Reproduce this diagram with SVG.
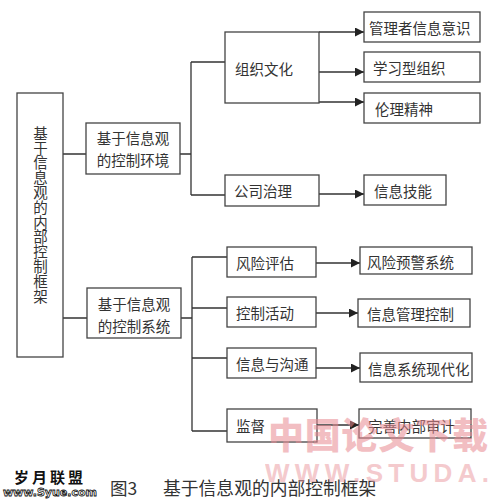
<svg xmlns="http://www.w3.org/2000/svg" width="493" height="503" viewBox="0 0 493 503">
<defs>
<style>
.box{fill:#fff;stroke:#444;stroke-width:1.3}
.t{font-family:"Noto Sans CJK SC","Noto Sans CJK JP",sans-serif;font-size:14.5px;fill:#333;dominant-baseline:central}
.c{text-anchor:middle}
.v{font-family:"Noto Sans CJK SC","Noto Sans CJK JP",sans-serif;font-size:14.5px;fill:#333;writing-mode:vertical-rl;letter-spacing:0.3px}
.ln{fill:none;stroke:#333;stroke-width:1.3}
</style>
<marker id="ah" markerUnits="userSpaceOnUse" markerWidth="9" markerHeight="9" refX="9" refY="4.5" orient="auto">
<path d="M0,0 L9,4.5 L0,9 z" fill="#222"/>
</marker>
</defs>
<rect width="493" height="503" fill="#fff"/>

<g id="connectors">
<path class="ln" d="M63,154 H86 M180,154 H191 M191,62 V195 M191,62 H225 M191,195 H225"/>
<path class="ln" d="M319,32 H364" marker-end="url(#ah)"/>
<path class="ln" d="M319,72 H364" marker-end="url(#ah)"/>
<path class="ln" d="M319,102 H364" marker-end="url(#ah)"/>
<path class="ln" d="M319,194 H364" marker-end="url(#ah)"/>
<path class="ln" d="M63,318 H87 M181,318 H192 M192,257 V431 M192,257 H227 M192,308 H227 M192,358 H227 M192,431 H227"/>
<path class="ln" d="M316,263 H360" marker-end="url(#ah)"/>
<path class="ln" d="M316,313 H358" marker-end="url(#ah)"/>
<path class="ln" d="M316,368 H360" marker-end="url(#ah)"/>
<path class="ln" d="M317,425 H359" marker-end="url(#ah)"/>
</g>

<g id="root">
<rect class="box" x="17" y="93" width="46" height="264"/>
<text class="v" x="40.5" y="126">基于信息观的内部控制框架</text>
</g>

<g id="env">
<rect class="box" x="86" y="123" width="94" height="51"/>
<text class="t c" x="133" y="137">基于信息观</text>
<text class="t c" x="133" y="159">的控制环境</text>
</g>
<g id="sys">
<rect class="box" x="87" y="288" width="94" height="50"/>
<text class="t c" x="134" y="303">基于信息观</text>
<text class="t c" x="134" y="325">的控制系统</text>
</g>

<g id="org">
<rect class="box" x="225" y="32" width="94" height="71"/>
<text class="t" x="235" y="68">组织文化</text>
</g>
<g id="gov">
<rect class="box" x="225" y="175" width="94" height="31"/>
<text class="t" x="234" y="190">公司治理</text>
</g>

<g id="mgr">
<rect class="box" x="364" y="12" width="116" height="30"/>
<text class="t" x="369" y="27">管理者信息意识</text>
</g>
<g id="learn">
<rect class="box" x="364" y="52" width="116" height="30"/>
<text class="t" x="373" y="67">学习型组织</text>
</g>
<g id="ethic">
<rect class="box" x="364" y="93" width="116" height="30"/>
<text class="t" x="375" y="108">伦理精神</text>
</g>
<g id="skill">
<rect class="box" x="364" y="175" width="82" height="30"/>
<text class="t" x="374" y="190">信息技能</text>
</g>

<g id="risk">
<rect class="box" x="227" y="247" width="89" height="30"/>
<text class="t" x="236" y="262">风险评估</text>
</g>
<g id="ctrl">
<rect class="box" x="227" y="297" width="89" height="30"/>
<text class="t" x="236" y="312">控制活动</text>
</g>
<g id="info">
<rect class="box" x="227" y="348" width="89" height="30"/>
<text class="t" x="236" y="363">信息与沟通</text>
</g>
<g id="mon">
<rect class="box" x="227" y="409" width="90" height="33"/>
<text class="t" x="236" y="425">监督</text>
</g>

<g id="warn">
<rect class="box" x="360" y="247" width="112" height="27"/>
<text class="t" x="367" y="261">风险预警系统</text>
</g>
<g id="infoctrl">
<rect class="box" x="358" y="299" width="112" height="28"/>
<text class="t" x="367" y="313">信息管理控制</text>
</g>
<g id="modern">
<rect class="box" x="360" y="353" width="112" height="29"/>
<text class="t" x="368" y="368">信息系统现代化</text>
</g>
<g id="audit">
<rect class="box" x="359" y="409" width="112" height="29"/>
<text class="t" x="368" y="425">完善内部审计</text>
</g>

<g id="caption">
<text class="t" x="110" y="487" style="font-size:17.5px">图3</text>
<text class="t" x="163" y="487" style="font-size:17.8px">基于信息观的内部控制框架</text>
</g>

<g id="logo">
<text x="50" y="483" text-anchor="middle" style="font-family:'Noto Sans CJK SC',sans-serif;font-size:15px;font-weight:bold;fill:#111;letter-spacing:3px">岁月联盟</text>
<text x="50" y="496" text-anchor="middle" style="font-family:'DejaVu Sans',sans-serif;font-size:11px;font-weight:bold;fill:#fff;stroke:#111;stroke-width:0.8">www.Syue.com</text>
</g>

<g id="watermark" opacity="0.55">
<text x="268" y="449" textLength="220" style="font-family:'Noto Sans CJK SC',sans-serif;font-size:36px;font-weight:900;fill:#e98a92">中国论文下载</text>
<text x="265" y="482" textLength="224" style="font-family:'Liberation Sans',sans-serif;font-size:26px;font-weight:bold;fill:#eca0a6">WWW.STUDA.</text>
</g>
</svg>
